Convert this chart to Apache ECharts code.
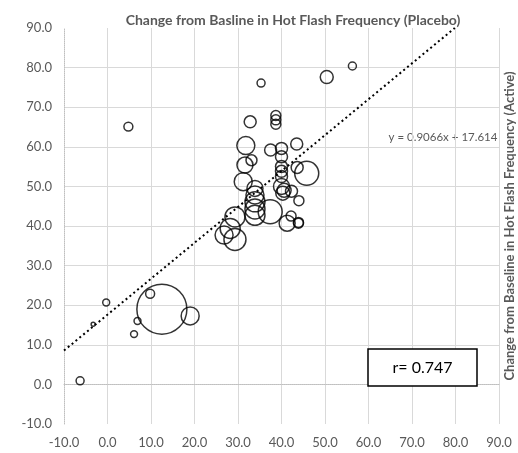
<!DOCTYPE html>
<html>
<head>
<meta charset="utf-8">
<script src="https://cdn.jsdelivr.net/npm/echarts@6/dist/echarts.min.js"></script>
<style>html,body{margin:0;padding:0;background:#fff}#c{width:518px;height:453px}</style>
</head>
<body>
<div id="c"></div>
<script>
// Data
const placebo = [-6.3, -3.3, -0.3, 6.1, 6.9, 9.8, 12.5, 19.0, 4.8, 35.3, 50.4, 56.3,
  32.8, 38.7, 38.7, 38.7, 31.8, 37.5, 40.0, 43.5, 31.6, 33.1, 40.0, 40.0, 40.0, 40.0,
  43.6, 45.8, 31.2, 40.0, 40.6, 42.3, 44.0, 33.9, 33.9, 33.9, 33.9, 33.9, 37.4, 29.3,
  28.2, 29.3, 26.8, 41.3, 42.2, 43.9, 43.9, 40.3];
const active = [0.9, 15.2, 20.7, 12.7, 16.0, 22.9, 19.0, 17.3, 65.1, 76.1, 77.6, 80.4,
  66.3, 67.9, 66.8, 65.7, 60.3, 59.2, 59.6, 60.7, 55.4, 56.6, 57.5, 55.0, 53.8, 52.5,
  54.8, 53.3, 51.2, 50.0, 49.0, 48.8, 46.4, 49.5, 47.8, 46.1, 44.3, 42.7, 43.6, 42.3,
  39.4, 36.6, 37.7, 40.7, 42.5, 40.7, 40.9, 48.3];
const weight = [16, 4, 12, 12, 12, 20, 625, 81, 20, 16, 42, 16,
  36, 25, 25, 25, 81, 36, 36, 36, 64, 30, 36, 36, 36, 36,
  36, 144, 81, 64, 49, 36, 25, 64, 81, 100, 100, 100, 144, 100,
  100, 121, 81, 64, 25, 25, 25, 49];
const slope = 0.9066, intercept = 17.614;
const rValue = '0.747';
const titleText = 'Change from Basline in Hot Flash Frequency (Placebo)';
const yName = 'Change from Baseline in Hot Flash Frequency (Active)';
const axisMin = -10, axisMax = 90, axisStep = 10;

const pts = placebo.map((x, i) => [x, active[i], weight[i]]);
const trend = [[axisMin, slope * axisMin + intercept], [(axisMax - intercept) / slope, axisMax]];

const chart = echarts.init(document.getElementById('c'), null, {renderer: 'canvas'});
const FONT = 'Lato';
chart.setOption({
  animation: false,
  title: {text: titleText, left: 288, top: 8, textAlign: 'center',
    textStyle: {fontFamily: FONT, fontSize: 14, fontWeight: 'bold', color: '#595959'}},
  grid: {left: 64, right: 19, top: 28, bottom: 29},
  xAxis: {type: 'value', min: axisMin, max: axisMax, interval: axisStep,
    axisLine: {show: true, lineStyle: {color: '#bfbfbf', type: 'dotted', width: 1}},
    axisTick: {show: false},
    axisLabel: {fontFamily: FONT, fontSize: 13, color: '#595959', margin: 12,
      formatter: v => v.toFixed(1)},
    splitLine: {show: true, showMinLine: false, showMaxLine: true,
      lineStyle: {color: '#d9d9d9', width: 1}}},
  yAxis: {type: 'value', min: axisMin, max: axisMax, interval: axisStep,
    axisLine: {show: true, onZero: false, lineStyle: {color: '#bfbfbf', type: 'dotted', width: 1}},
    axisTick: {show: false},
    axisLabel: {fontFamily: FONT, fontSize: 13, color: '#595959', margin: 12,
      formatter: v => v.toFixed(1)},
    splitLine: {show: true, showMinLine: false, showMaxLine: false,
      lineStyle: {color: '#d9d9d9', width: 1}}},
  series: [
    {type: 'scatter', data: pts, symbol: 'circle',
      symbolSize: d => 2 * Math.sqrt(d[2]),
      itemStyle: {color: 'rgba(255,255,255,0)', borderColor: '#000', borderWidth: 1.5},
      z: 3},
    {type: 'line', data: trend, showSymbol: false, symbol: 'none',
      lineStyle: {color: '#000', width: 2, type: [2, 3]}, z: 2}
  ],
  graphic: [
    {type: 'text', x: 510, y: 226, rotation: Math.PI / 2,
      style: {text: yName, fontFamily: FONT, fontSize: 13, fontWeight: 'bold', fill: '#595959',
        textAlign: 'center', textVerticalAlign: 'middle'}},
    {type: 'text', x: 443, y: 137,
      style: {text: 'y = ' + slope + 'x + ' + intercept, fontFamily: FONT, fontSize: 11.5, fill: '#595959',
        textAlign: 'center', textVerticalAlign: 'middle'}},
    {type: 'rect', shape: {x: 368, y: 349, width: 109, height: 37},
      style: {fill: '#fff', stroke: '#000', lineWidth: 1.5}, z: 10},
    {type: 'text', x: 422.5, y: 368,
      style: {text: 'r= ' + rValue, fontFamily: FONT, fontSize: 16, fill: '#000',
        textAlign: 'center', textVerticalAlign: 'middle'}, z: 11}
  ]
});
</script>
</body>
</html>
